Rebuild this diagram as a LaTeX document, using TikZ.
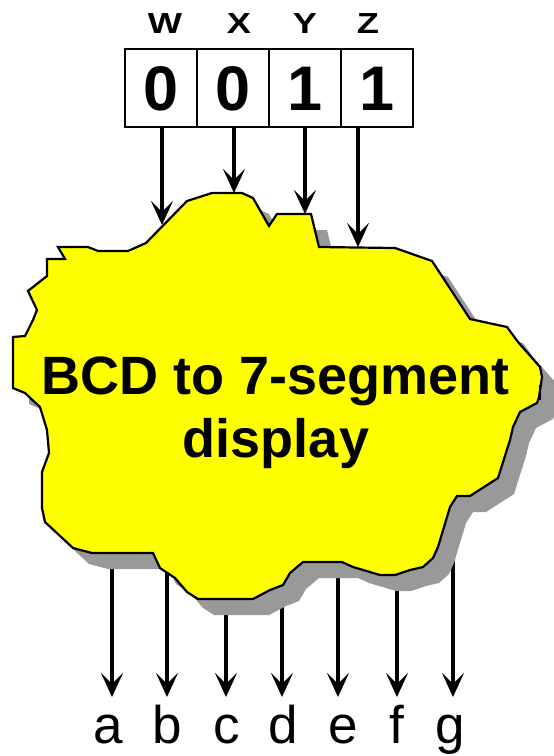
\documentclass[tikz,border=0pt]{standalone}
\usepackage{fontspec}
\setmainfont{Liberation Sans}
\usetikzlibrary{arrows.meta,calc}
\definecolor{shadowgray}{RGB}{153,153,153}
\definecolor{blobyellow}{RGB}{255,255,0}
\begin{document}
\begin{tikzpicture}[x=1pt,y=-1pt,
  bitbox/.style={draw, line width=1.5pt, minimum width=72pt, minimum height=78pt, inner sep=0pt,
    font=\fontsize{63}{63}\selectfont\bfseries, text height=45pt, text depth=0pt},
  bitlabel/.style={anchor=base, inner sep=0pt, font=\fontsize{29}{29}\selectfont\bfseries},
  outlabel/.style={anchor=base, inner sep=0pt, font=\fontsize{53}{53}\selectfont},
  sigarrow/.style={line width=3.2pt, -{Stealth[length=24pt,width=22pt,inset=11pt]}},
  blobshape/.style={insert path={(58,247) -- (88,247) -- (98,251) -- (128,251) -- (146,243) -- (187,201)
    -- (212,193) -- (242,193) -- (253,198) -- (269,226) -- (277,214) -- (311,214) -- (319,247)
    -- (395,248) -- (432,261) -- (470,319) -- (507,327) -- (518,342) -- (540,367) -- (542,377)
    -- (539,397) -- (537,403) -- (520,412) -- (513,427) -- (510,440) -- (498,478) -- (470,496)
    -- (457,496) -- (450,507) -- (438,547) -- (433,558) -- (423,567) -- (410,570) -- (395,575)
    -- (380,575) -- (353,567) -- (342,562) -- (303,562) -- (290,573) -- (283,585) -- (270,590)
    -- (253,599) -- (198,599) -- (187,592) -- (175,578) -- (160,568) -- (153,553) -- (92,553)
    -- (73,548) -- (45,522) -- (42,508) -- (42,472) -- (49,453) -- (47,430) -- (40,407)
    -- (25,393) -- (13,388) -- (13,337) -- (25,336) -- (27,332) -- (33,320) -- (37,310)
    -- (28,291) -- (47,276) -- (47,259) -- (65,259) -- cycle}}]
\useasboundingbox (0,0) rectangle (554,756);

% output arrows (behind the shadow)
\foreach \n/\xx/\lx in {a/112/108, b/167/167, c/226/227, d/282/283, e/338/343, f/397/397, g/453/450}{
  \coordinate (s\n) at (\xx,540);
  \coordinate (t\n) at (\xx,697);
  \node[outlabel] (l\n) at (\lx,743) {\n};
  \draw[sigarrow] (s\n) -- (t\n);
}

% shadow
\begin{scope}[shift={(16,16)}]
  \fill[shadowgray, blobshape];
\end{scope}
% blob
\draw[fill=blobyellow, line width=2.2pt, line join=miter, blobshape];
\draw[line width=1.8pt] (540,385) -- (540,400);

\node[font=\fontsize{54}{63}\selectfont\bfseries, align=center, inner sep=0pt] (title) at (276,413)
  {BCD to 7-segment\\display};

% input boxes
\node[bitbox] (w) at (161,88) {0};
\node[bitbox] (x) at (233,88) {0};
\node[bitbox] (y) at (305,88) {1};
\node[bitbox] (z) at (377,88) {1};
\node[bitlabel] (lw) at (165,33) {\scalebox{1.25}[1]{W}};
\node[bitlabel] (lx) at (239,33) {\scalebox{1.25}[1]{X}};
\node[bitlabel] (ly) at (305,33) {\scalebox{1.25}[1]{Y}};
\node[bitlabel] (lz) at (368,33) {\scalebox{1.25}[1]{Z}};

\coordinate (ew) at (162,225);
\coordinate (ex) at (234,193);
\coordinate (ey) at (305,214);
\coordinate (ez) at (358,247);
\coordinate (zs) at (358,127);
\draw[sigarrow] (w.south -| ew) -- (ew);
\draw[sigarrow] (x.south -| ex) -- (ex);
\draw[sigarrow] (y.south -| ey) -- (ey);
\draw[sigarrow] (zs) -- (ez);
\end{tikzpicture}
\end{document}
